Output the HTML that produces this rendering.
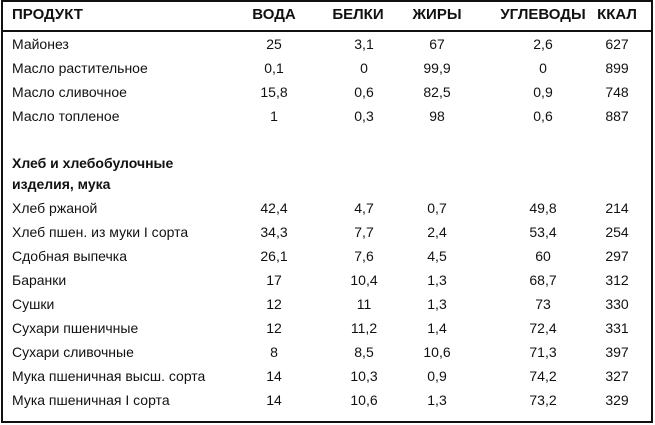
<!DOCTYPE html>
<html><head><meta charset="utf-8"><style>
body{margin:0;width:655px;height:425px;background:#fff;position:relative;font-family:"Liberation Sans","DejaVu Sans",sans-serif;color:#111;overflow:hidden}
.box{position:absolute;left:1px;top:0px;width:648px;height:419px;border:2px solid #111}
.hl{position:absolute;left:1px;width:652px;top:30px;height:0;border-top:2px solid #111}
.t{position:absolute;font-size:14px;white-space:nowrap;line-height:16px}
.c{transform:translateX(-50%)}
.b{font-weight:bold}
.h{font-size:15px}
</style></head><body>
<div class="box"></div><div class="hl"></div>
<div class="t b h" style="left:12px;top:7px">ПРОДУКТ</div>
<div class="t b h c" style="left:274px;top:7px">ВОДА</div>
<div class="t b h c" style="left:358px;top:7px">БЕЛКИ</div>
<div class="t b h c" style="left:437px;top:7px">ЖИРЫ</div>
<div class="t b h c" style="left:543px;top:7px">УГЛЕВОДЫ</div>
<div class="t b h c" style="left:617px;top:7px">ККАЛ</div>
<div class="t b" style="left:12px;top:155px">Хлеб и хлебобулочные</div>
<div class="t b" style="left:12px;top:176px">изделия, мука</div>
<div id="rows"></div>
<script>
var d=[[36,"Майонез","25","3,1","67","2,6","627"],[60,"Масло растительное","0,1","0","99,9","0","899"],[84,"Масло сливочное","15,8","0,6","82,5","0,9","748"],[108,"Масло топленое","1","0,3","98","0,6","887"],
[200,"Хлеб ржаной","42,4","4,7","0,7","49,8","214"],[224,"Хлеб пшен. из муки I сорта","34,3","7,7","2,4","53,4","254"],[248,"Сдобная выпечка","26,1","7,6","4,5","60","297"],[272,"Баранки","17","10,4","1,3","68,7","312"],[296,"Сушки","12","11","1,3","73","330"],[320,"Сухари пшеничные","12","11,2","1,4","72,4","331"],[344,"Сухари сливочные","8","8,5","10,6","71,3","397"],[368,"Мука пшеничная высш. сорта","14","10,3","0,9","74,2","327"],[392,"Мука пшеничная I сорта","14","10,6","1,3","73,2","329"]];
var xs=[274,364,437,543,617],h="";
d.forEach(function(r){h+='<div class="t" style="left:12px;top:'+r[0]+'px">'+r[1]+'</div>';for(var i=0;i<5;i++)h+='<div class="t c" style="left:'+xs[i]+'px;top:'+r[0]+'px">'+r[i+2]+'</div>';});
document.getElementById("rows").innerHTML=h;
</script>
</body></html>
